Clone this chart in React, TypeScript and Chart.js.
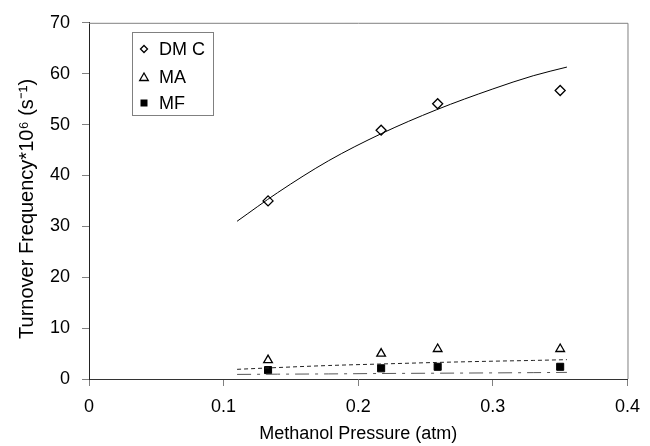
import React, { useEffect, useRef } from "react";
import { Chart, registerables } from "chart.js";

Chart.register(...registerables);

// Measured data points (methanol pressure, atm)
const pressures = [0.133, 0.217, 0.259, 0.35];
const dmcValues = [35.0, 48.9, 54.1, 56.7];
const maValues = [3.7, 5.0, 5.9, 5.9];
const mfValues = [1.75, 2.1, 2.4, 2.4];

// Fitted model curves
const fitPressures = [0.11, 0.14, 0.178, 0.217, 0.258, 0.3, 0.33, 0.355];
const dmcFit = [31.0, 36.6, 42.9, 48.2, 52.9, 57.0, 59.6, 61.3];
const maFit = [1.9, 2.25, 2.65, 2.95, 3.25, 3.5, 3.65, 3.8];
const mfFit = [0.9, 0.95, 1.0, 1.08, 1.14, 1.2, 1.25, 1.3];

const xTicks = [0, 0.1, 0.2, 0.3, 0.4];
const yTicks = [0, 10, 20, 30, 40, 50, 60, 70];

const legendLabels = ["DM C", "MA", "MF"];
const yTitle = "Turnover Frequency*10\u2076 (s\u207B\u00B9)";
const xTitle = "Methanol Pressure (atm)";

const FONT = "'Liberation Sans', Arial, sans-serif";

const pts = (xs: number[], ys: number[]) => xs.map((x, i) => ({ x, y: ys[i] }));

const framePlugin = {
  id: "frame",
  afterDraw(chart: any) {
    const { ctx, chartArea } = chart;
    ctx.save();
    ctx.strokeStyle = "#808080";
    ctx.lineWidth = 1;
    ctx.beginPath();
    ctx.moveTo(chartArea.left, chartArea.top + 0.5);
    ctx.lineTo(chartArea.right + 0.5, chartArea.top + 0.5);
    ctx.lineTo(chartArea.right + 0.5, chartArea.bottom);
    ctx.stroke();
    // y-axis title, centred slightly below the middle of the plot as in the original
    ctx.fillStyle = "#000";
    ctx.font = `20px ${FONT}`;
    ctx.textAlign = "center";
    ctx.textBaseline = "middle";
    ctx.translate(27, (chartArea.top + chartArea.bottom) / 2 + 8);
    ctx.rotate(-Math.PI / 2);
    ctx.fillText(yTitle, 0, 0);
    ctx.restore();
  },
};

const legendPlugin = {
  id: "boxLegend",
  afterDraw(chart: any) {
    const { ctx } = chart;
    ctx.save();
    ctx.strokeStyle = "#808080";
    ctx.lineWidth = 1;
    ctx.fillStyle = "#ffffff";
    ctx.fillRect(132, 32, 81, 83);
    ctx.strokeRect(132.5, 32.5, 81, 83);
    const rows = [49, 77, 103];
    const mx = 144;
    ctx.font = `18px ${FONT}`;
    ctx.textBaseline = "middle";
    ctx.textAlign = "left";
    rows.forEach((y, i) => {
      ctx.strokeStyle = "#000";
      ctx.fillStyle = "#000";
      ctx.lineWidth = 1.3;
      ctx.beginPath();
      if (i === 0) {
        ctx.moveTo(mx - 3.5, y);
        ctx.lineTo(mx, y - 3.5);
        ctx.lineTo(mx + 3.5, y);
        ctx.lineTo(mx, y + 3.5);
        ctx.closePath();
        ctx.stroke();
      } else if (i === 1) {
        ctx.moveTo(mx, y - 4);
        ctx.lineTo(mx + 4.3, y + 3.5);
        ctx.lineTo(mx - 4.3, y + 3.5);
        ctx.closePath();
        ctx.stroke();
      } else {
        ctx.fillRect(mx - 3.5, y - 3.5, 7, 7);
      }
      ctx.fillStyle = "#000";
      ctx.fillText(legendLabels[i], 159, y + 1);
    });
    ctx.restore();
  },
};

export default function App() {
  const canvasRef = useRef<HTMLCanvasElement | null>(null);

  useEffect(() => {
    const canvas = canvasRef.current;
    if (!canvas) return;
    const chart = new Chart(canvas, {
      type: "scatter",
      data: {
        datasets: [
          {
            label: "DMC fit",
            data: pts(fitPressures, dmcFit),
            showLine: true,
            borderColor: "#000",
            borderWidth: 1,
            pointRadius: 0,
            cubicInterpolationMode: "monotone",
          },
          {
            label: "MA fit",
            data: pts(fitPressures, maFit),
            showLine: true,
            borderColor: "#222",
            borderWidth: 1,
            borderDash: [4, 3],
            pointRadius: 0,
            cubicInterpolationMode: "monotone",
          },
          {
            label: "MF fit",
            data: pts(fitPressures, mfFit),
            showLine: true,
            borderColor: "#555",
            borderWidth: 1,
            borderDash: [14, 6, 3, 6],
            pointRadius: 0,
            cubicInterpolationMode: "monotone",
          },
          {
            label: "DM C",
            data: pts(pressures, dmcValues),
            pointStyle: "rectRot",
            pointRadius: 5,
            borderColor: "#000",
            backgroundColor: "#fff",
            borderWidth: 1.3,
          },
          {
            label: "MA",
            data: pts(pressures, maValues),
            pointStyle: "triangle",
            pointRadius: 5,
            borderColor: "#000",
            backgroundColor: "#fff",
            borderWidth: 1.3,
          },
          {
            label: "MF",
            data: pts(pressures, mfValues),
            pointStyle: "rect",
            pointRadius: 5,
            borderColor: "#000",
            backgroundColor: "#000",
            borderWidth: 1,
          },
        ],
      },
      options: {
        responsive: false,
        animation: false,
        devicePixelRatio: 1,
        layout: { padding: { top: 19, right: 0, left: 0, bottom: 0 } },
        plugins: {
          legend: { display: false },
          tooltip: { enabled: false },
        },
        scales: {
          x: {
            type: "linear",
            min: 0,
            max: 0.4,
            afterBuildTicks: (scale: any) => {
              scale.ticks = xTicks.map((v) => ({ value: v }));
            },
            afterFit: (scale: any) => {
              scale.height = 67;
            },
            ticks: {
              color: "#000",
              font: { family: FONT, size: 18 },
              padding: 10,
              maxRotation: 0,
              callback: (v: any) => String(Number(Number(v).toFixed(1))),
            },
            grid: {
              display: true,
              drawOnChartArea: false,
              drawTicks: true,
              tickLength: 7,
              color: "#808080",
            },
            border: { display: true, color: "#333", width: 1 },
            title: {
              display: true,
              text: xTitle,
              color: "#000",
              font: { family: FONT, size: 18 },
              padding: { top: 0, bottom: 1 },
            },
          },
          y: {
            type: "linear",
            min: 0,
            max: 70,
            afterBuildTicks: (scale: any) => {
              scale.ticks = yTicks.map((v) => ({ value: v }));
            },
            afterFit: (scale: any) => {
              scale.width = 89;
            },
            ticks: {
              color: "#000",
              font: { family: FONT, size: 18 },
              padding: 12,
            },
            grid: {
              display: true,
              drawOnChartArea: false,
              drawTicks: true,
              tickLength: 7,
              color: "#808080",
            },
            border: { display: true, color: "#222", width: 1 },
            title: { display: false },
          },
        },
      },
      plugins: [framePlugin, legendPlugin],
    } as any);
    return () => chart.destroy();
  }, []);

  return (
    <div style={{ position: "absolute", left: 0, top: 0, width: 650, height: 446, background: "#fff" }}>
      <canvas ref={canvasRef} width={650} height={446} style={{ display: "block" }} />
    </div>
  );
}
